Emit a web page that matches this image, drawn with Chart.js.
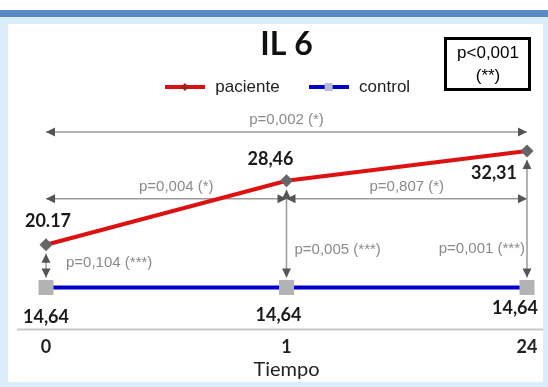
<!DOCTYPE html>
<html>
<head>
<meta charset="utf-8">
<script src="https://cdn.jsdelivr.net/npm/chart.js@4.4.0/dist/chart.umd.min.js"></script>
<style>
  html, body { margin: 0; padding: 0; background: #fff; }
  canvas { display: block; }
</style>
</head>
<body>
<canvas id="chart" width="548" height="387"></canvas>
<script>
// Datos del gráfico
const tiempos = ["0", "1", "24"];
const paciente = [20.17, 28.46, 32.31];
const control = [14.64, 14.64, 14.64];
const etiquetasPaciente = ["20.17", "28,46", "32,31"];
const etiquetasControl = ["14,64", "14,64", "14,64"];
// comparaciones entre tiempos (paciente)
const compTiempos = [
  { desde: 0, hasta: 2, texto: "p=0,002 (*)" },
  { desde: 0, hasta: 1, texto: "p=0,004 (*)" },
  { desde: 1, hasta: 2, texto: "p=0,807 (*)" },
];
// paciente vs control en cada tiempo
const compGrupos = ["p=0,104 (***)", "p=0,005 (***)", "p=0,001 (***)"];
const pGlobal = ["p<0,001", "(**)"];

const ROJO = "#dd1111";
const AZUL = "#0000cc";
const GRIS_P = "#8a8a8a";

// desplazamientos de las etiquetas de valores
const posPaciente = [
  { dx: 2, dy: -24, align: "center" },
  { dx: -16, dy: -22, align: "center" },
  { dx: -10, dy: 22, align: "right" },
];
const posControl = [
  { dx: 0, dy: 30, align: "center" },
  { dx: -8, dy: 28, align: "center" },
  { dx: 11, dy: 21, align: "right" },
];
// etiquetas de las flechas verticales
const posGrupos = [
  { dx: 20, y: -25, align: "left" },
  { dx: 8, y: -38, align: "left" },
  { dx: -2, y: -39, align: "right" },
];

function icono(color, forma, relleno) {
  const c = document.createElement("canvas");
  c.width = 40;
  c.height = 10;
  const g = c.getContext("2d");
  g.fillStyle = color;
  g.fillRect(0, 3, 40, 4);
  g.fillStyle = relleno;
  if (forma === "rombo") {
    g.beginPath();
    g.moveTo(20, 1);
    g.lineTo(24, 5);
    g.lineTo(20, 9);
    g.lineTo(16, 5);
    g.closePath();
    g.fill();
  } else {
    g.fillRect(16, 1, 8, 8);
  }
  return c;
}
const iconos = [icono(ROJO, "rombo", "#a02020"), icono(AZUL, "cuadro", "#b8b8d8")];

function punta(ctx, x, y, ang) {
  ctx.save();
  ctx.translate(x, y);
  ctx.rotate(ang);
  ctx.beginPath();
  ctx.moveTo(0, 0);
  ctx.lineTo(-9, -4.5);
  ctx.lineTo(-9, 4.5);
  ctx.closePath();
  ctx.fillStyle = "#555";
  ctx.fill();
  ctx.restore();
}

function flecha(ctx, x1, y1, x2, y2) {
  const ang = Math.atan2(y2 - y1, x2 - x1);
  ctx.save();
  ctx.strokeStyle = "#9a9a9a";
  ctx.lineWidth = 1.5;
  ctx.beginPath();
  ctx.moveTo(x1, y1);
  ctx.lineTo(x2, y2);
  ctx.stroke();
  ctx.restore();
  punta(ctx, x1, y1, ang + Math.PI);
  punta(ctx, x2, y2, ang);
}

const fondo = {
  id: "fondo",
  beforeDraw(chart) {
    const { ctx, width, height } = chart;
    ctx.save();
    ctx.fillStyle = "#ffffff";
    ctx.fillRect(0, 0, width, height);
    ctx.fillStyle = "#dbedf8";
    ctx.fillRect(0, 17, width, height - 17);
    ctx.fillStyle = "#5a87c6";
    ctx.fillRect(0, 10, width, 7);
    ctx.fillStyle = "#ffffff";
    ctx.fillRect(8, 24, 535, 358);
    ctx.restore();
  },
};

const anotaciones = {
  id: "anotaciones",
  beforeDatasetsDraw(chart) {
    const { ctx, chartArea } = chart;
    const xs = chart.scales.x;
    const ys = chart.scales.y;
    const px = (i) => xs.getPixelForValue(i);
    const pyP = (i) => ys.getPixelForValue(paciente[i]);
    const pyC = (i) => ys.getPixelForValue(control[i]);

    // línea del eje
    ctx.save();
    ctx.strokeStyle = "#c8c8c8";
    ctx.lineWidth = 2;
    ctx.beginPath();
    ctx.moveTo(17, chartArea.bottom);
    ctx.lineTo(543, chartArea.bottom);
    ctx.stroke();
    ctx.restore();

    const yArriba = Math.min(...paciente.map((v, i) => pyP(i))) - 19;
    const yMedio = pyP(1) + 18;

    ctx.save();
    ctx.font = "15px 'Liberation Sans', Arial, sans-serif";
    ctx.fillStyle = GRIS_P;
    ctx.textBaseline = "middle";
    compTiempos.forEach((c, k) => {
      const y = c.hasta - c.desde === 2 ? yArriba : yMedio;
      flecha(ctx, px(c.desde), y, px(c.hasta), y);
      ctx.textAlign = "center";
      const dx = k === 1 ? 10 : 0;
      ctx.fillText(c.texto, (px(c.desde) + px(c.hasta)) / 2 + dx, y - 12);
    });

    compGrupos.forEach((t, i) => {
      flecha(ctx, px(i), pyP(i) + 9, px(i), pyC(i) - 10);
      const p = posGrupos[i];
      ctx.textAlign = p.align;
      ctx.fillText(t, px(i) + p.dx, pyC(i) + p.y);
    });
    ctx.restore();
  },
  afterDatasetsDraw(chart) {
    const { ctx } = chart;
    ctx.save();
    ctx.font = "bold 18px Lato, sans-serif";
    ctx.fillStyle = "#1a1a1a";
    ctx.textBaseline = "middle";
    [[0, etiquetasPaciente, posPaciente], [1, etiquetasControl, posControl]].forEach(([d, textos, pos]) => {
      chart.getDatasetMeta(d).data.forEach((el, j) => {
        ctx.textAlign = pos[j].align;
        ctx.fillText(textos[j], el.x + pos[j].dx, el.y + pos[j].dy);
      });
    });
    ctx.restore();
  },
  afterDraw(chart) {
    const { ctx } = chart;
    ctx.save();
    ctx.strokeStyle = "#000";
    ctx.lineWidth = 3;
    ctx.strokeRect(445.5, 38.5, 84, 51);
    ctx.fillStyle = "#000";
    ctx.font = "17px 'Liberation Sans', Arial, sans-serif";
    ctx.textAlign = "center";
    ctx.textBaseline = "middle";
    ctx.fillText(pGlobal[0], 488, 53);
    ctx.fillText(pGlobal[1], 488, 76);
    ctx.restore();
  },
};

new Chart(document.getElementById("chart"), {
  type: "line",
  data: {
    labels: tiempos,
    datasets: [
      {
        label: "paciente",
        data: paciente,
        borderColor: ROJO,
        borderWidth: 4,
        pointStyle: "rectRot",
        pointRadius: 6.5,
        pointBackgroundColor: "#666666",
        pointBorderWidth: 0,
        tension: 0,
        clip: false,
      },
      {
        label: "control",
        data: control,
        borderColor: AZUL,
        borderWidth: 4,
        pointStyle: "rect",
        pointRadius: 10.6,
        pointBackgroundColor: "#b3b3b3",
        pointBorderWidth: 0,
        tension: 0,
        clip: false,
      },
    ],
  },
  options: {
    responsive: false,
    animation: false,
    layout: { padding: { left: 46, right: 21, top: 0, bottom: 5 } },
    plugins: {
      title: {
        display: true,
        text: "IL 6",
        color: "#111",
        font: { family: "Lato", size: 32, weight: "bold", lineHeight: 1 },
        padding: { top: 29, bottom: -9.5 },
      },
      legend: {
        display: true,
        labels: {
          usePointStyle: true,
          pointStyleWidth: 44,
          padding: 27,
          color: "#222",
          font: { family: "'Liberation Sans', Arial, sans-serif", size: 17 },
          generateLabels: (chart) => {
            const items = Chart.defaults.plugins.legend.labels.generateLabels(chart);
            items.forEach((it, i) => (it.pointStyle = iconos[i]));
            return items;
          },
        },
      },
      tooltip: { enabled: false },
    },
    scales: {
      x: {
        type: "category",
        offset: false,
        grid: { display: false, drawTicks: false },
        border: { display: false },
        ticks: { padding: 7, color: "#222", font: { family: "Lato", size: 18, weight: "bold" } },
        title: {
          display: true,
          text: "Tiempo",
          color: "#222",
          font: { family: "Lato", size: 20 },
          padding: { top: -7, bottom: 0 },
        },
      },
      y: { display: false, min: 9.22, max: 38.19 },
    },
  },
  plugins: [fondo, anotaciones],
});
</script>
</body>
</html>
